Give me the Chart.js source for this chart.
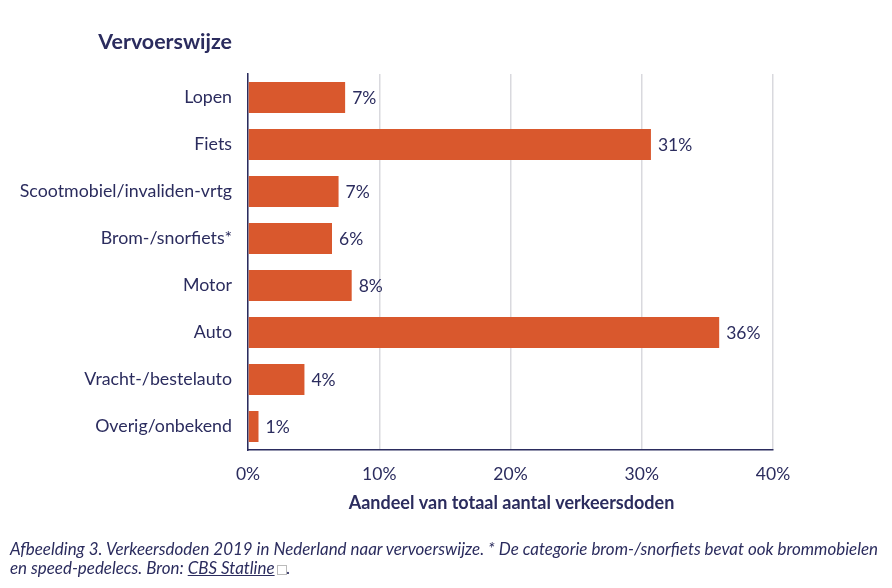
<!DOCTYPE html>
<html>
<head>
<meta charset="utf-8">
<script src="https://cdn.jsdelivr.net/npm/chart.js@4.4.1/dist/chart.umd.min.js"></script>
<style>
  html, body { margin:0; padding:0; background:#fff; }
  #wrap { position:relative; width:892px; height:588px; }
  #caption { position:absolute; left:10px; top:539px; width:880px;
    font-family:Lato, "Open Sans", sans-serif; font-style:italic; font-size:17px; line-height:19px;
    color:#2B2C5E; white-space:nowrap; }
  #caption a { color:#2B2C5E; text-decoration:underline; }
  .ext { display:inline-block; width:8px; height:8px; border:1px solid #bbb; margin-left:2px; vertical-align:-1px; }
</style>
</head>
<body>
<div id="wrap">
  <canvas id="c" width="892" height="588"></canvas>
  <div id="caption"><span id="l1">Afbeelding 3. Verkeersdoden 2019 in Nederland naar vervoerswijze. * De categorie brom-/snorfiets bevat ook brommobielen</span><br>en speed-pedelecs. Bron: <a>CBS Statline</a><span class="ext"></span>.</div>
</div>
<script>
const categories = ["Lopen","Fiets","Scootmobiel/invaliden-vrtg","Brom-/snorfiets*","Motor","Auto","Vracht-/bestelauto","Overig/onbekend"];
const shares = [7.4, 30.7, 6.9, 6.4, 7.9, 35.9, 4.3, 0.8];
const tickValues = [0, 10, 20, 30, 40];
const chartTitle = "Vervoerswijze";
const axisTitle = "Aandeel van totaal aantal verkeersdoden";

const NAVY = "#2B2C5E";
const BAR = "#D9582D";
const FONT = "Lato, 'Open Sans', sans-serif";

const textPlugin = {
  id: "texts",
  afterDatasetsDraw(chart) {
    const ctx = chart.ctx;
    const meta = chart.getDatasetMeta(0);
    const area = chart.chartArea;
    ctx.save();
    ctx.font = "17.5px " + FONT;
    ctx.fillStyle = NAVY;
    ctx.textAlign = "left";
    ctx.textBaseline = "middle";
    meta.data.forEach((bar, i) => {
      ctx.fillText(Math.round(shares[i]) + "%", bar.x + 7, bar.y + 1);
    });
    ctx.font = "bold 21.4px " + FONT;
    ctx.textAlign = "right";
    ctx.fillText(chartTitle, 232, 42);
    ctx.font = "bold 18px " + FONT;
    ctx.textAlign = "center";
    ctx.fillText(axisTitle, (area.left + area.right) / 2 + 1, 503);
    ctx.restore();
  }
};

new Chart(document.getElementById("c"), {
  type: "bar",
  data: {
    labels: categories,
    datasets: [{ data: shares, backgroundColor: BAR, barPercentage: 0.66, categoryPercentage: 1 }]
  },
  options: {
    indexAxis: "y",
    responsive: false,
    animation: false,
    layout: { padding: { left: 0, right: 119, top: 74, bottom: 0 } },
    plugins: { legend: { display: false }, tooltip: { enabled: false } },
    scales: {
      x: {
        min: 0, max: 40,
        afterBuildTicks(scale) { scale.ticks = tickValues.map(v => ({ value: v })); },
        afterFit(scale) { scale.height = 138; },
        ticks: { callback: v => v + "%", color: NAVY, font: { family: FONT, size: 17.5 }, padding: 14 },
        grid: { color: "#D9D9DE", lineWidth: 1.5, drawTicks: false },
        border: { color: NAVY, width: 1.5 }
      },
      y: {
        afterFit(scale) { scale.width = 248; },
        ticks: { color: NAVY, font: { family: FONT, size: 17.8 }, padding: 16 },
        grid: { display: false, drawTicks: false },
        border: { color: NAVY, width: 1.5 }
      }
    }
  },
  plugins: [textPlugin]
});
// fit caption first line to the reference width
(function(){
  const l1 = document.getElementById("l1");
  const cap = document.getElementById("caption");
  const w = l1.getBoundingClientRect().width;
  const size = 17 * 868 / w;
  cap.style.fontSize = size.toFixed(2) + "px";
})();
</script>
</body>
</html>
